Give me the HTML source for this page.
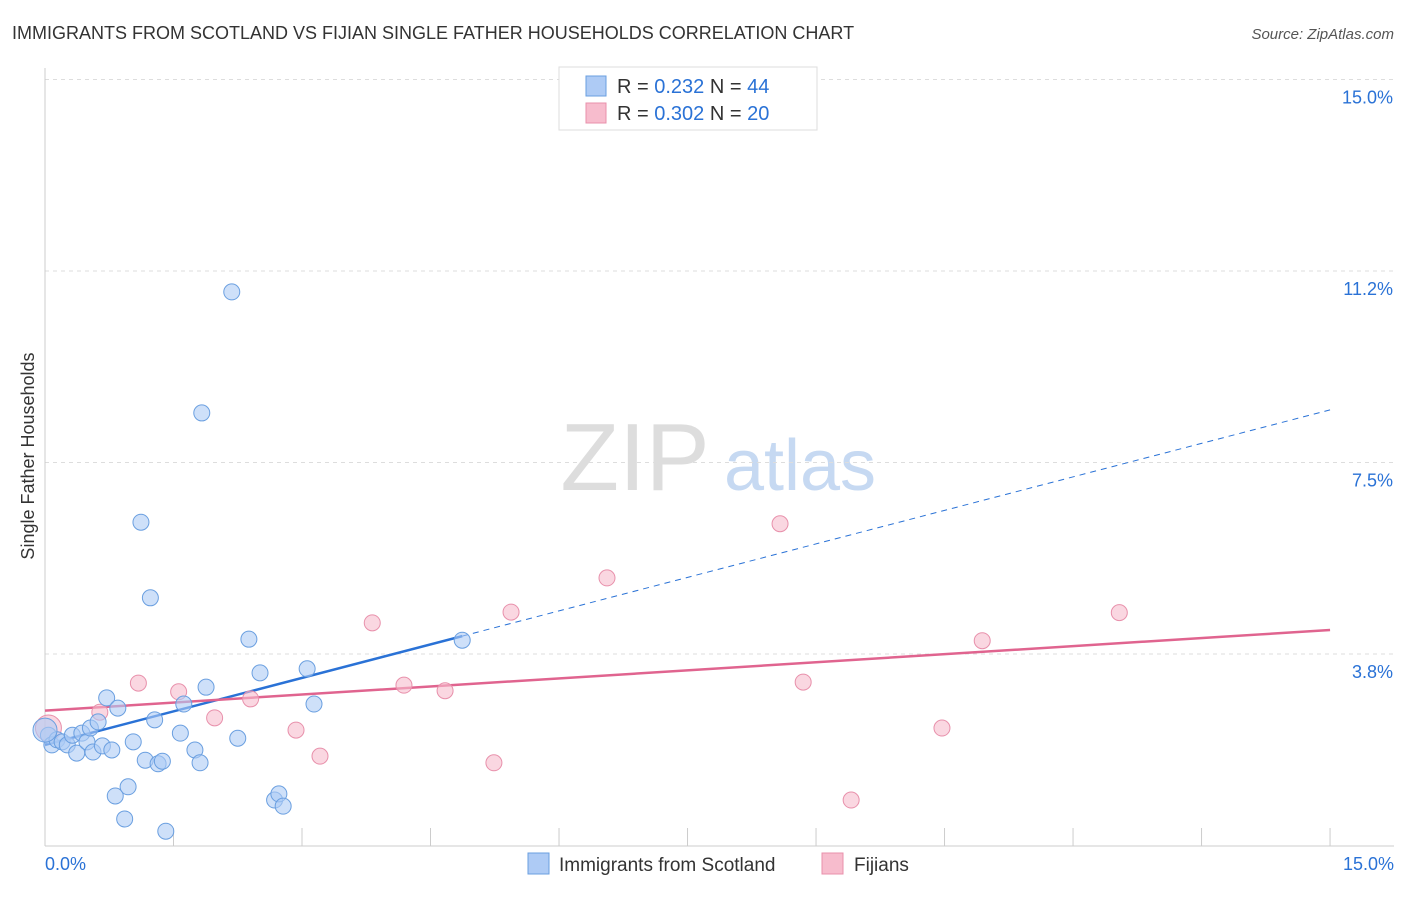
<!DOCTYPE html>
<html><head><meta charset="utf-8">
<style>
body{margin:0;background:#fff;font-family:"Liberation Sans",sans-serif;}
svg text{font-family:"Liberation Sans",sans-serif;}
</style></head>
<body>
<svg id="chart" width="1406" height="892" xmlns="http://www.w3.org/2000/svg">
<text x="12" y="39" font-size="18" fill="#333">IMMIGRANTS FROM SCOTLAND VS FIJIAN SINGLE FATHER HOUSEHOLDS CORRELATION CHART</text>
<text x="1394" y="39" font-size="15" fill="#555" font-style="italic" text-anchor="end">Source: ZipAtlas.com</text>
<text x="34" y="456" font-size="18" fill="#333" text-anchor="middle" transform="rotate(-90 34 456)">Single Father Households</text>
<g>
<text x="635" y="490" font-size="96" fill="#ddd" font-family="Liberation Serif" text-anchor="middle">ZIP</text>
<text x="800" y="490" font-size="72" fill="#c6d9f2" text-anchor="middle">atlas</text>
</g>
<g id="grid"></g><g id="axes"></g><g id="trend"></g><g id="points"></g>
<g>
<rect x="559" y="67" width="258" height="63" fill="#fff" stroke="#ddd"/>
<rect x="586" y="76" width="20" height="20" fill="#aecbf5" stroke="#6a9fe0"/>
<rect x="586" y="103" width="20" height="20" fill="#f7bccd" stroke="#e890ab"/>
<text x="617" y="93" font-size="20" fill="#333">R = <tspan fill="#2a72d6">0.232</tspan>   N = <tspan fill="#2a72d6">44</tspan></text>
<text x="617" y="120" font-size="20" fill="#333">R = <tspan fill="#2a72d6">0.302</tspan>   N = <tspan fill="#2a72d6">20</tspan></text>
</g>
<g>
<rect x="528" y="853" width="21" height="21" fill="#aecbf5" stroke="#6a9fe0"/>
<text x="559" y="871" font-size="19" fill="#333">Immigrants from Scotland</text>
<rect x="822" y="853" width="21" height="21" fill="#f7bccd" stroke="#e890ab"/>
<text x="854" y="871" font-size="19" fill="#333">Fijians</text>
</g>
</svg>
<script>
const yTicks=[3.75,7.5,11.25,15];
const yTickLabels=["3.8%","7.5%","11.2%","15.0%"];
const xTickCount=10;
const blueX=[0.04,0.08,0.14,0.20,0.26,0.32,0.37,0.43,0.49,0.53,0.56,0.62,0.67,0.72,0.78,0.85,0.82,0.93,0.97,1.03,1.12,1.17,1.23,1.28,1.32,1.37,1.41,1.58,1.62,1.75,1.81,1.83,1.88,2.18,2.25,2.38,2.51,2.68,2.73,2.78,3.06,3.14,4.87,0];
const blueY=[2.16,1.97,2.07,2.03,1.97,2.16,1.81,2.20,2.03,2.30,1.83,2.42,1.95,2.89,1.87,2.69,0.97,0.52,1.15,2.03,6.33,1.67,4.85,2.46,1.60,1.65,0.28,2.20,2.77,1.87,1.62,8.47,3.10,10.84,2.10,4.04,3.38,0.89,1.01,0.77,3.46,2.77,4.02,2.26];
const pinkX=[0.04,0.64,1.09,1.56,1.98,2.40,2.93,3.21,3.82,4.19,4.67,5.24,5.44,6.56,8.58,8.85,9.41,10.47,10.94,12.54];
const pinkY=[2.30,2.61,3.18,3.01,2.50,2.87,2.26,1.75,4.36,3.14,3.03,1.62,4.57,5.24,6.30,3.20,0.89,2.30,4.01,4.56];
const blueTrend=[1.97,8.53]; const blueSolidEnd=4.87;
const pinkTrend=[2.64,4.22];
const NS="http://www.w3.org/2000/svg";
const sx=v=>45+v*85.67, sy=v=>845.5-v*51.07;
function mk(t,a,p){const e=document.createElementNS(NS,t);for(const k in a)e.setAttribute(k,a[k]);p.appendChild(e);return e;}
const grid=document.getElementById('grid'),axes=document.getElementById('axes');
yTicks.forEach((v,i)=>{
 const l=mk('line',{x1:45,x2:1394,y1:sy(v),y2:sy(v),stroke:'#ddd','stroke-dasharray':'4 4'},grid);
 
 
 const t=mk('text',{x:1393,y:sy(v)+24,'font-size':18,fill:'#2a72d6','text-anchor':'end'},axes);
 t.textContent=yTickLabels[i];
 
 
});
const ya=mk('line',{x1:45,x2:45,y1:68,y2:846,stroke:'#ccc'},axes);


const xa=mk('line',{x1:45,x2:1394,y1:846,y2:846,stroke:'#ccc'},axes);


for(let i=0;i<=xTickCount;i++){
 const tk=mk('line',{x1:sx(i*1.5),x2:sx(i*1.5),y1:828,y2:846,stroke:'#ccc'},axes);
 
 
}
const xl0=mk('text',{x:45,y:870,'font-size':18,fill:'#2a72d6'},axes);xl0.textContent='0.0%';


const xl1=mk('text',{x:1394,y:870,'font-size':18,fill:'#2a72d6','text-anchor':'end'},axes);xl1.textContent='15.0%';


const tr=document.getElementById('trend');
const slope=(blueTrend[1]-blueTrend[0])/15;
const bs=mk('line',{x1:sx(0),y1:sy(blueTrend[0]),x2:sx(blueSolidEnd),y2:sy(blueTrend[0]+slope*blueSolidEnd),stroke:'#2a72d6','stroke-width':2.5},tr);


const bd=mk('line',{x1:sx(blueSolidEnd),y1:sy(blueTrend[0]+slope*blueSolidEnd),x2:sx(15),y2:sy(blueTrend[1]),stroke:'#2a72d6','stroke-width':1,'stroke-dasharray':'6 5'},tr);


const pl=mk('line',{x1:sx(0),y1:sy(pinkTrend[0]),x2:sx(15),y2:sy(pinkTrend[1]),stroke:'#e0648f','stroke-width':2.5},tr);


const pts=document.getElementById('points');
pinkX.forEach((x,i)=>{
 const c=mk('circle',{cx:sx(x),cy:sy(pinkY[i]),r:i==0?13:8,fill:'#f7bccd','fill-opacity':0.6,stroke:'#e890ab','stroke-width':1},pts);
 
 
});
blueX.forEach((x,i)=>{
 const c=mk('circle',{cx:sx(x),cy:sy(blueY[i]),r:i==blueX.length-1?12:8,fill:'#aecbf5','fill-opacity':0.6,stroke:'#6a9fe0','stroke-width':1},pts);
 
 
});
</script>
</body></html>
